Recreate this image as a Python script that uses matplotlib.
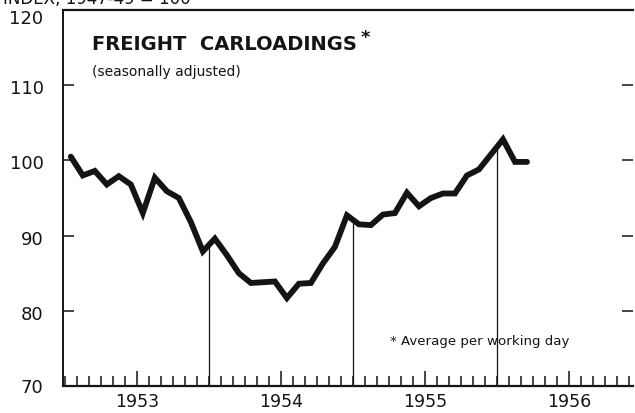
import matplotlib
matplotlib.use("Agg")
import matplotlib.pyplot as plt
import matplotlib.transforms as mtransforms
import numpy as np

# Monthly index values, Jan 1953 - Mar 1956 (1947-49 = 100)
values_1953 = [100.5, 98.0, 98.6, 96.8, 97.9, 96.8, 93.0, 97.7, 95.9, 95.0, 91.8, 87.9]
values_1954 = [89.6, 87.4, 85.0, 83.7, 83.8, 83.9, 81.7, 83.6, 83.7, 86.3, 88.5, 92.7]
values_1955 = [91.5, 91.4, 92.8, 93.0, 95.7, 93.9, 95.0, 95.6, 95.6, 98.0, 98.8, 100.8]
values_1956 = [102.8, 99.8, 99.8]
years = ["1953", "1954", "1955", "1956"]
y_ticks = [70, 80, 90, 100, 110, 120]

values = np.array(values_1953 + values_1954 + values_1955 + values_1956)
months = np.arange(len(values)) + 0.5

fig = plt.figure(figsize=(6.35, 4.13), dpi=100)
ax = fig.add_axes([63 / 635, 27 / 413, (633 - 63) / 635, (386 - 10) / 413])

ink = "#141414"

ax.plot(months, values, color=ink, lw=4.2, solid_joinstyle="miter", solid_capstyle="round", zorder=3)

# year-boundary verticals up to the curve
for b in [12, 24, 36]:
    top = np.interp(b, months, values)
    ax.plot([b, b], [70, top], color=ink, lw=0.9, zorder=2)

ax.set_xlim(-0.15, 47.33)
ax.set_ylim(70, 120)

ax.spines["right"].set_visible(False)
ax.spines["top"].set_linewidth(1.6)
ax.spines["left"].set_linewidth(1.4)
ax.spines["bottom"].set_linewidth(1.6)
for s in ["top", "left", "bottom"]:
    ax.spines[s].set_color(ink)

ax.set_yticks(y_ticks)
ax.set_yticklabels([str(v) for v in y_ticks], fontsize=13, color=ink)
ax.tick_params(axis="y", direction="in", length=8, width=1.1, pad=14,
               right=True, color=ink)
# nudge the top label below the frame line, as in the original
top_lab = ax.get_yticklabels()[-1]
top_lab.set_transform(top_lab.get_transform() +
                      mtransforms.ScaledTranslation(0, -7 / 100, fig.dpi_scale_trans))
for lab in ax.get_yticklabels()[1:-1]:
    lab.set_transform(lab.get_transform() +
                      mtransforms.ScaledTranslation(0, -2 / 100, fig.dpi_scale_trans))

# x ticks: monthly minor, mid-year major with labels
ax.set_xticks([6, 18, 30, 42])
ax.set_xticklabels(years, fontsize=12.5, color=ink)
ax.set_xticks(np.arange(0, 48), minor=True)
ax.tick_params(axis="x", which="major", direction="in", length=11, width=1.1, pad=5, color=ink)
ax.tick_params(axis="x", which="minor", direction="in", length=7, width=1.1, color=ink)

fig.text(92 / 635, 1 - 44 / 413, "FREIGHT  CARLOADINGS",
         fontsize=14, fontweight="bold", color=ink, va="center", ha="left")
fig.text(361 / 635, 1 - 38 / 413, "*",
         fontsize=13, fontweight="bold", color=ink, va="center", ha="left")
fig.text(92 / 635, 1 - 72 / 413, "(seasonally adjusted)",
         fontsize=10, color=ink, va="center", ha="left")
fig.text(390 / 635, 1 - 341 / 413, "* Average per working day",
         fontsize=9.6, color=ink, va="center", ha="left")
fig.text(0.005, 1 - 4 / 413, "INDEX, 1947-49 = 100", fontsize=12, color=ink,
         va="baseline", ha="left")

fig.savefig("out.png", dpi=100, facecolor="white")
